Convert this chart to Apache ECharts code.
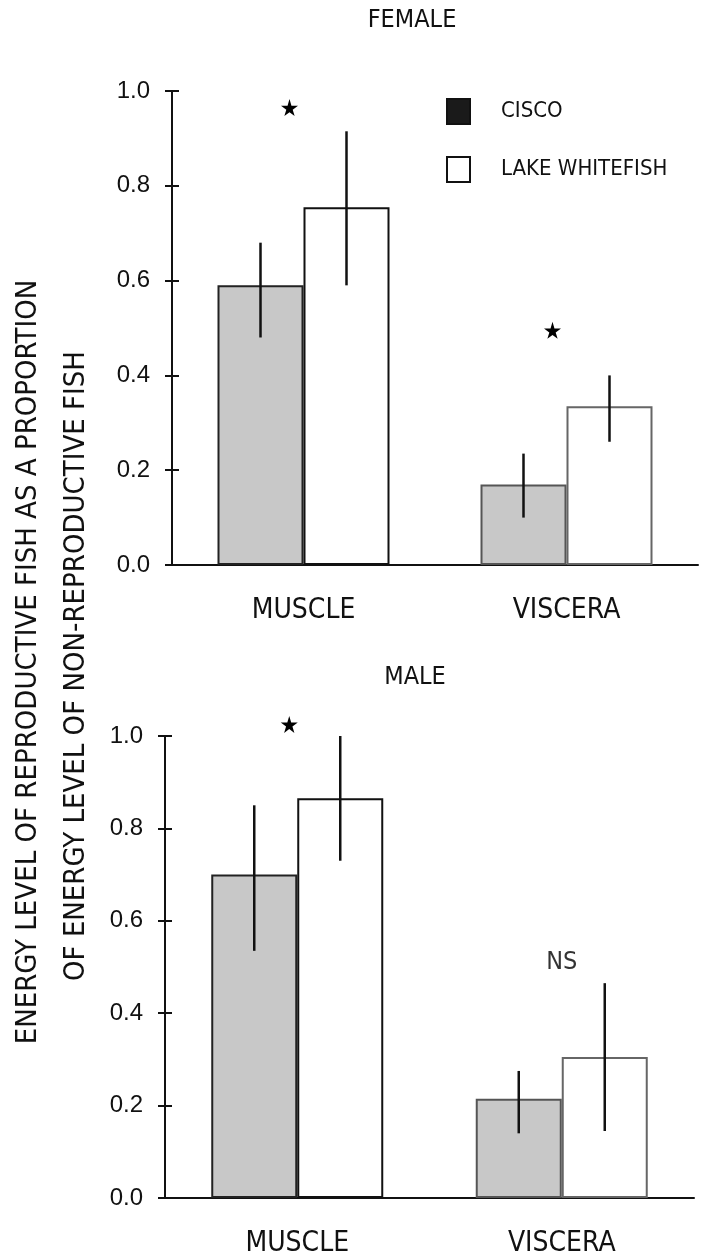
<!DOCTYPE html>
<html>
<head>
<meta charset="utf-8">
<script src="https://cdn.jsdelivr.net/npm/echarts@6/dist/echarts.min.js"></script>
<style>
  html, body { margin: 0; padding: 0; background: #fff; }
  #chart { width: 712px; height: 1258px; }
</style>
</head>
<body>
<div id="chart"></div>
<script>
/* ---------- data ---------- */
var categories = ['MUSCLE', 'VISCERA'];
var yTicks = [0, 0.2, 0.4, 0.6, 0.8, 1.0];

// female
var ciscoF = [0.59, 0.17];
var ciscoFLow = [0.48, 0.10];
var ciscoFHigh = [0.68, 0.235];
var whiteF = [0.755, 0.335];
var whiteFLow = [0.59, 0.26];
var whiteFHigh = [0.915, 0.40];
var starF = [0.965, 0.495];

// male
var ciscoM = [0.70, 0.215];
var ciscoMLow = [0.535, 0.14];
var ciscoMHigh = [0.85, 0.275];
var whiteM = [0.865, 0.305];
var whiteMLow = [0.73, 0.145];
var whiteMHigh = [1.0, 0.465];
var starM = [1.025, null];
var nsM = [null, 0.51];

/* ---------- chart ---------- */
var chart = echarts.init(document.getElementById('chart'));

var BAR_W = 86;
var NARROW = "'Liberation Sans Narrow', 'DejaVu Sans Condensed', sans-serif";
var SANS = "'Liberation Sans', Arial, sans-serif";

function errData(lowA, highA, side) {
    return lowA.map(function (lo, i) { return [i, lo, highA[i], side]; });
}

function renderErr(params, api) {
    var side = api.value(3);
    var p1 = api.coord([api.value(0), api.value(1)]);
    var p2 = api.coord([api.value(0), api.value(2)]);
    var x = p1[0] + side * BAR_W / 2;
    return {
        type: 'line',
        shape: { x1: x, y1: p1[1], x2: x, y2: p2[1] },
        style: { stroke: '#111', lineWidth: 2.5 }
    };
}

function xAxisFor(gi) {
    return {
        type: 'category', gridIndex: gi, data: categories,
        axisLine: { lineStyle: { color: '#111', width: 2 } },
        axisTick: { show: false },
        axisLabel: { color: '#111', fontFamily: NARROW, fontSize: 28, margin: 32 }
    };
}

function yAxisFor(gi, inside) {
    return {
        type: 'value', gridIndex: gi, position: 'left', min: 0, max: 1, interval: 0.2,
        splitLine: { show: false },
        axisLine: { show: !inside, lineStyle: { color: '#111', width: 2 } },
        axisTick: { show: true, inside: inside, length: 7, lineStyle: { color: '#111', width: 2 } },
        axisLabel: {
            show: !inside, color: '#111', fontFamily: SANS, fontSize: 24, margin: 22,
            formatter: function (v) { return v.toFixed(1); }
        }
    };
}

function barsFor(gi, cisco, white) {
    return [
        {
            name: 'CISCO', type: 'bar', xAxisIndex: gi, yAxisIndex: gi * 2,
            barWidth: BAR_W, barGap: '0%',
            data: cisco.map(function (v, i) {
                return { value: v, itemStyle: { borderColor: i ? '#555' : '#222' } };
            }),
            itemStyle: { color: '#c8c8c8', borderColor: '#222', borderWidth: 2 }
        },
        {
            name: 'LAKE WHITEFISH', type: 'bar', xAxisIndex: gi, yAxisIndex: gi * 2,
            barWidth: BAR_W, barGap: '0%',
            data: white.map(function (v, i) {
                return { value: v, itemStyle: { borderColor: i ? '#666' : '#111' } };
            }),
            itemStyle: { color: '#fff', borderColor: '#111', borderWidth: 2 }
        }
    ];
}

var starPath = 'path://M50,0 L61,35 L98,35 L68,57 L79,91 L50,70 L21,91 L32,57 L2,35 L39,35 Z';

var series = []
    .concat(barsFor(0, ciscoF, whiteF))
    .concat(barsFor(1, ciscoM, whiteM))
    .concat([
        { type: 'custom', xAxisIndex: 0, yAxisIndex: 0, renderItem: renderErr, data: errData(ciscoFLow, ciscoFHigh, -1), z: 5 },
        { type: 'custom', xAxisIndex: 0, yAxisIndex: 0, renderItem: renderErr, data: errData(whiteFLow, whiteFHigh, 1), z: 5 },
        { type: 'custom', xAxisIndex: 1, yAxisIndex: 2, renderItem: renderErr, data: errData(ciscoMLow, ciscoMHigh, -1), z: 5 },
        { type: 'custom', xAxisIndex: 1, yAxisIndex: 2, renderItem: renderErr, data: errData(whiteMLow, whiteMHigh, 1), z: 5 },
        {
            type: 'scatter', xAxisIndex: 0, yAxisIndex: 0, clip: false,
            symbol: starPath, symbolSize: 17, symbolOffset: [-14, 0],
            itemStyle: { color: '#000', opacity: 1 },
            data: starF.map(function (v, i) { return [i, v]; })
        },
        {
            type: 'scatter', xAxisIndex: 1, yAxisIndex: 2, clip: false,
            symbol: starPath, symbolSize: 17, symbolOffset: [-8, 0],
            itemStyle: { color: '#000', opacity: 1 },
            data: starM.map(function (v, i) { return [i, v]; }).filter(function (d) { return d[1] != null; })
        },
        {
            type: 'scatter', xAxisIndex: 1, yAxisIndex: 2, clip: false,
            symbolSize: 0,
            label: { show: true, position: 'inside', formatter: 'NS', color: '#000', fontFamily: NARROW, fontSize: 25 },
            data: nsM.map(function (v, i) { return [i, v]; }).filter(function (d) { return d[1] != null; })
        }
    ]);

var option = {
    animation: false,
    backgroundColor: '#fff',
    grid: [
        { left: 172, right: 14, top: 91, height: 474 },
        { left: 165, right: 18, top: 736, height: 465 }
    ],
    xAxis: [xAxisFor(0), xAxisFor(1)],
    yAxis: [yAxisFor(0, false), yAxisFor(0, true), yAxisFor(1, false), yAxisFor(1, true)],
    legend: {
        orient: 'vertical', left: 441, top: 93, itemGap: 31,
        itemWidth: 23, itemHeight: 25, icon: 'rect', selectedMode: false,
        textStyle: { color: '#111', fontFamily: NARROW, fontSize: 22, padding: [0, 0, 0, 26] },
        data: [
            { name: 'CISCO', itemStyle: { color: '#1a1a1a', borderColor: '#111', borderWidth: 2 } },
            { name: 'LAKE WHITEFISH', itemStyle: { color: '#fff', borderColor: '#111', borderWidth: 2 } }
        ]
    },
    graphic: [
        { type: 'text', x: 412, y: 20, style: { text: 'FEMALE', fontFamily: NARROW, fontSize: 25, fill: '#111', align: 'center', verticalAlign: 'middle' } },
        { type: 'text', x: 415, y: 677, style: { text: 'MALE', fontFamily: NARROW, fontSize: 25, fill: '#111', align: 'center', verticalAlign: 'middle' } },
        { type: 'text', x: 28, y: 662, rotation: Math.PI / 2, style: { text: 'ENERGY LEVEL OF REPRODUCTIVE FISH AS A PROPORTION', fontFamily: NARROW, fontSize: 29, fill: '#111', align: 'center', verticalAlign: 'middle' } },
        { type: 'text', x: 76, y: 666, rotation: Math.PI / 2, style: { text: 'OF ENERGY LEVEL OF NON-REPRODUCTIVE FISH', fontFamily: NARROW, fontSize: 29, fill: '#111', align: 'center', verticalAlign: 'middle' } }
    ],
    series: series
};

chart.setOption(option);
</script>
</body>
</html>
